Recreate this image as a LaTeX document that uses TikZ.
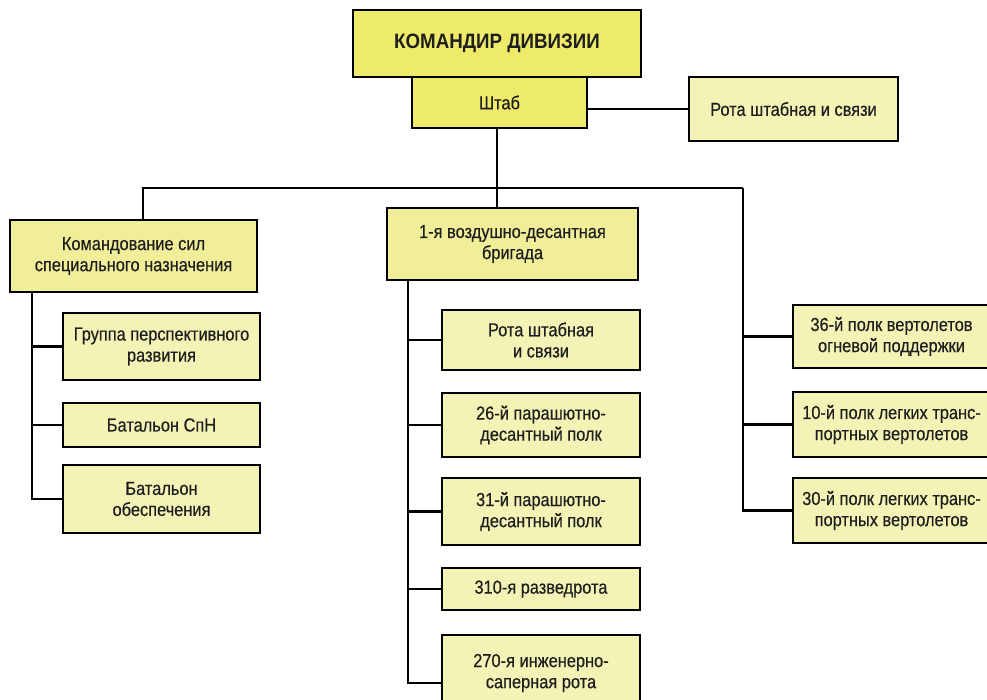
\documentclass[tikz,border=0pt]{standalone}
\usepackage{fontspec}
\setmainfont{Liberation Sans}[FakeStretch=0.87]
\definecolor{topyellow}{HTML}{EFEB6A}
\definecolor{midyellow}{HTML}{F1EE9A}
\definecolor{lowyellow}{HTML}{F4F3B6}
\definecolor{inktext}{HTML}{1E1E1E}
\tikzset{
  unit/.style={draw=black, line width=1.7pt, fill=lowyellow, align=center,
    inner sep=0pt, text=inktext, font=\fontsize{13.4}{15}\selectfont\addfontfeature{FakeBold=0.4}},
  topunit/.style={unit, fill=topyellow},
  midunit/.style={unit, fill=midyellow},
  link/.style={line width=1.5pt, black}
}
\begin{document}
\begin{tikzpicture}[x=0.025cm, y=-0.025cm]
\useasboundingbox (0,0) rectangle (987,699);
\clip (0,0) rectangle (987,699);
% head of the division
\node (cmd) [topunit, minimum width=288*0.025cm, minimum height=67*0.025cm,
  font=\fontsize{14.8}{17}\selectfont\bfseries\addfontfeature{FakeStretch=0.9}] at (497,43.5) {КОМАНДИР ДИВИЗИИ};
\node (shtab) [topunit, minimum width=175*0.025cm, minimum height=51*0.025cm] at (499.5,102.5) {Штаб};
\node (rota) [unit, minimum width=209*0.025cm, minimum height=64*0.025cm] at (793.5,109) {Рота штабная и связи};
% second level
\node (ksn) [midunit, minimum width=247*0.025cm, minimum height=72*0.025cm] at (133.5,256) {Командование сил\\специального назначения};
\node (brig) [midunit, minimum width=251*0.025cm, minimum height=72*0.025cm] at (512.5,244) {1-я воздушно-десантная\\бригада};
% special forces
\node (grp) [unit, minimum width=197*0.025cm, minimum height=67*0.025cm] at (161.5,346.5) {Группа перспективного\\развития};
\node (bspn) [unit, minimum width=197*0.025cm, minimum height=44*0.025cm] at (161.5,425) {Батальон СпН};
\node (bob) [unit, minimum width=197*0.025cm, minimum height=68*0.025cm] at (161.5,499) {Батальон\\обеспечения};
% brigade
\node (rsv) [unit, minimum width=198*0.025cm, minimum height=60*0.025cm] at (541,340) {Рота штабная\\и связи};
\node (p26) [unit, minimum width=198*0.025cm, minimum height=64*0.025cm] at (541,425) {26-й парашютно-\\десантный полк};
\node (p31) [unit, minimum width=198*0.025cm, minimum height=67*0.025cm] at (541,511.5) {31-й парашютно-\\десантный полк};
\node (r310) [unit, minimum width=198*0.025cm, minimum height=42*0.025cm] at (541,589) {310-я разведрота};
\node (e270) [unit, minimum width=198*0.025cm, minimum height=76*0.025cm] at (541,673) {270-я инженерно-\\саперная рота};
% helicopters
\node (h36) [unit, minimum width=197*0.025cm, minimum height=63*0.025cm] at (891.5,336.5) {36-й полк вертолетов\\огневой поддержки};
\node (h10) [unit, minimum width=197*0.025cm, minimum height=65*0.025cm] at (891.5,424.5) {10-й полк легких транс-\\портных вертолетов};
\node (h30) [unit, minimum width=197*0.025cm, minimum height=65*0.025cm] at (891.5,510.5) {30-й полк легких транс-\\портных вертолетов};
% connectors
\coordinate (bus) at (497,188);
\coordinate (busL) at (143,188);
\coordinate (busR) at (743,188);
\coordinate (spL) at (32,292);
\coordinate (spM) at (408,280);
\draw[link] (shtab.east |- rota.west) -- (rota.west);
\draw[link] (shtab.south -| bus) -- (bus);
\draw[link] (busL |- ksn.north) -- (busL) -- (busR);
\draw[link] (bus) -- (bus |- brig.north);
\draw[link] (busR) |- (h30.west);
\draw[link] (busR |- h36.west) -- (h36.west);
\draw[link] (busR |- h10.west) -- (h10.west);
\draw[link] (spL) |- (bob.west);
\draw[link] (spL |- grp.west) -- (grp.west);
\draw[link] (spL |- bspn.west) -- (bspn.west);
\draw[link] (spM) |- ([yshift=-10*0.025cm]e270.west);
\draw[link] (spM |- rsv.west) -- (rsv.west);
\draw[link] (spM |- p26.west) -- (p26.west);
\draw[link] (spM |- p31.west) -- (p31.west);
\draw[link] (spM |- r310.west) -- (r310.west);
\end{tikzpicture}
\end{document}
